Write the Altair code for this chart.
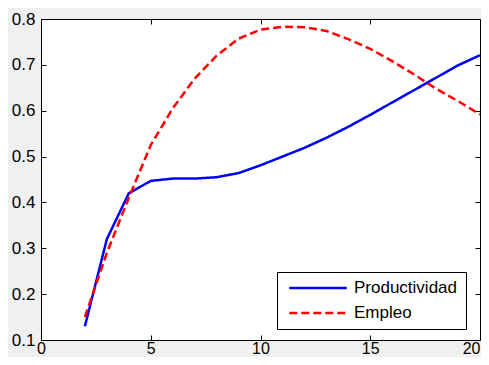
import altair as alt
import pandas as pd

x_vals = list(range(2, 21))
productividad = [0.130, 0.320, 0.420, 0.447, 0.452, 0.452, 0.455, 0.464, 0.481,
                 0.500, 0.519, 0.541, 0.565, 0.591, 0.618, 0.645, 0.672, 0.699, 0.721]
empleo = [0.150, 0.290, 0.410, 0.525, 0.605, 0.670, 0.720, 0.757, 0.777,
          0.783, 0.782, 0.774, 0.756, 0.735, 0.708, 0.679, 0.648, 0.621, 0.592]
series_names = ["Productividad", "Empleo"]
x_ticks = [0, 5, 10, 15, 20]
y_ticks = [0.1, 0.2, 0.3, 0.4, 0.5, 0.6, 0.7, 0.8]

rows = []
for name, vals in zip(series_names, [productividad, empleo]):
    for xv, yv in zip(x_vals, vals):
        rows.append({"x": xv, "y": yv, "serie": name})
df = pd.DataFrame(rows)

W, H = 439, 321
FONT = "Liberation Sans"

xscale = alt.Scale(domain=[0, 20], nice=False, zero=False)
yscale = alt.Scale(domain=[0.1, 0.8], nice=False, zero=False)

legend = alt.Legend(
    title=None, orient="none", legendX=236, legendY=253,
    fillColor="white", strokeColor="black", padding=8, cornerRadius=0,
    symbolType="stroke", symbolSize=3300, symbolStrokeWidth=2.3,
    symbolOffset=3, labelOffset=6, clipHeight=16, rowPadding=8,
    labelFont=FONT, labelFontSize=17, labelColor="black",
)
color = alt.Color("serie:N", scale=alt.Scale(domain=series_names, range=["#0000ff", "#ff0000"]),
                  legend=legend)
dash = alt.StrokeDash("serie:N", scale=alt.Scale(domain=series_names, range=[[1, 0], [8, 4]]),
                      legend=legend)

label_axis_common = dict(grid=False, domain=False, ticks=False, labelFont=FONT,
                         labelColor="black", labelOverlap=False,
                         labelBound=False, labelFlush=False)

main = alt.Chart(df).mark_line(strokeWidth=2.5, clip=True).encode(
    x=alt.X("x:Q", scale=xscale, title=None,
            axis=alt.Axis(orient="bottom", values=x_ticks, format="d", labelPadding=0,
                          labelFontSize=16,
                          labelAlign={"condition": {"test": "datum.value == 20", "value": "right"},
                                      "value": "center"},
                          **label_axis_common)),
    y=alt.Y("y:Q", scale=yscale, title=None,
            axis=alt.Axis(orient="left", values=y_ticks, format=".1f", labelPadding=6,
                          labelFontSize=17, **label_axis_common)),
    color=color,
    strokeDash=dash,
    order=alt.Order("x:Q"),
)

tick_common = dict(grid=False, domain=False, labels=False, ticks=True, tickSize=5,
                   tickColor="black", tickWidth=1)

ticks_a = alt.Chart(df).mark_line(opacity=0).encode(
    x=alt.X("x:Q", scale=xscale, title=None,
            axis=alt.Axis(orient="top", offset=-H, values=x_ticks, **tick_common)),
    y=alt.Y("y:Q", scale=yscale, title=None,
            axis=alt.Axis(orient="right", offset=-W, values=y_ticks, **tick_common)),
    detail="serie:N",
)
ticks_b = alt.Chart(df).mark_line(opacity=0).encode(
    x=alt.X("x:Q", scale=xscale, title=None,
            axis=alt.Axis(orient="bottom", offset=-H, values=x_ticks, **tick_common)),
    y=alt.Y("y:Q", scale=yscale, title=None,
            axis=alt.Axis(orient="left", offset=-W, values=y_ticks, **tick_common)),
    detail="serie:N",
)

chart = alt.layer(ticks_a, ticks_b, main).resolve_axis(x="independent", y="independent").properties(
    width=W, height=H,
    autosize=alt.AutoSizeParams(type="none"),
    padding={"left": 33, "top": 11, "right": 1, "bottom": 17},
    background="#f0f0f0",
).configure_view(stroke="black", strokeWidth=1, fill="white")

chart.save("out.html", embed_options={"renderer": "svg", "actions": False})
